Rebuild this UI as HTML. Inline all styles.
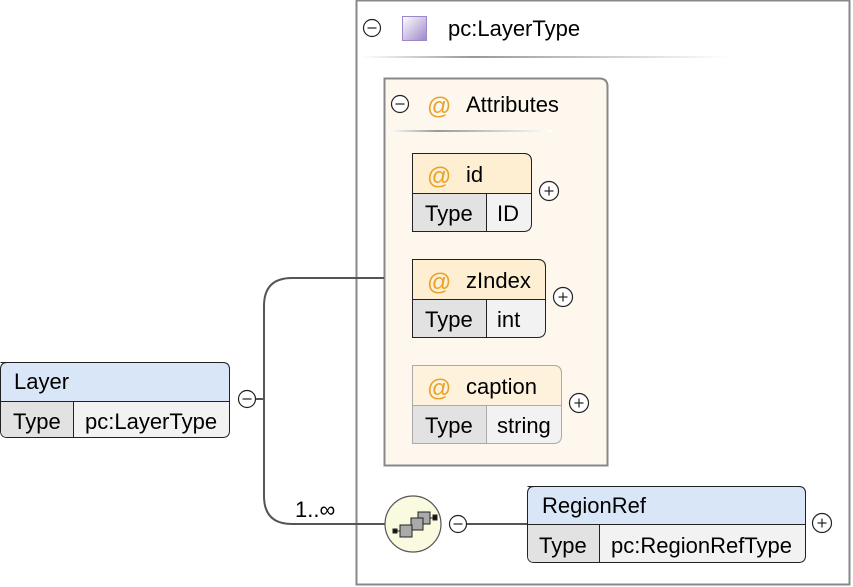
<!DOCTYPE html>
<html><head><meta charset="utf-8"><style>
html,body{margin:0;padding:0;background:#fff;width:853px;height:587px;overflow:hidden}
svg text{font-family:"Liberation Sans",Arial,sans-serif;font-size:22px;fill:#000}
svg text.at{fill:#e8a22a;font-size:24px}
</style></head><body>
<svg width="853" height="587" viewBox="0 0 853 587" xmlns="http://www.w3.org/2000/svg">
<defs>
<linearGradient id="sq" x1="0" y1="0" x2="1" y2="1"><stop offset="0" stop-color="#fff"/><stop offset="1" stop-color="#9c88c8"/></linearGradient>
<linearGradient id="dv" x1="0" x2="1"><stop offset="0" stop-color="#fff"/><stop offset="0.3" stop-color="#999"/><stop offset="1" stop-color="#fff"/></linearGradient>
<g id="minus"><circle r="8.5" fill="#fff" stroke="#222" stroke-width="1.2"/><line x1="-4.5" x2="4.5" y1="0" y2="0" stroke="#222" stroke-width="1.2"/></g>
<g id="plus"><circle r="9.5" fill="#fff" stroke="#222" stroke-width="1.2"/><line x1="-4.5" x2="4.5" stroke="#222" stroke-width="1.2"/><line y1="-4.5" y2="4.5" stroke="#222" stroke-width="1.2"/></g>
</defs>
<rect x="356.5" y="0.5" width="493" height="584" fill="#fff" stroke="#888" stroke-width="2"/>
<use href="#minus" x="372" y="28"/>
<rect x="402.5" y="16.5" width="24" height="24" fill="url(#sq)" stroke="#9c88c8"/>
<text x="448" y="36">pc:LayerType</text>
<rect x="362" y="56" width="368" height="2" fill="url(#dv)"/>
<path d="M384.5 78.5 H599.5 Q607.5 78.5 607.5 86.5 V465.5 H384.5 Z" fill="#fdf7ee" stroke="#888" stroke-width="2"/>
<use href="#minus" x="400" y="104"/>
<text x="427" y="114" class="at">@</text>
<text x="466" y="112">Attributes</text>
<rect x="388" y="130" width="164" height="2" fill="url(#dv)"/>
<g>
<path d="M412.5 153.5 H523.5 Q531.5 153.5 531.5 161.5 V223.5 Q531.5 231.5 523.5 231.5 H412.5 Z" fill="#f2f2f2" stroke="#222"/>
<path d="M412.5 153.5 H523.5 Q531.5 153.5 531.5 161.5 V193.5 H412.5 Z" fill="#feefd2" stroke="#222"/>
<rect x="413" y="194" width="73" height="37" fill="#e2e2e2"/>
<line x1="486.5" y1="193.5" x2="486.5" y2="231.5" stroke="#222"/>
<text x="427" y="184" class="at">@</text><text x="466" y="182">id</text>
<text x="425" y="221">Type</text><text x="497" y="221">ID</text>
<use href="#plus" x="549" y="191"/>
</g>
<g>
<path d="M412.5 259.5 H537.5 Q545.5 259.5 545.5 267.5 V329.5 Q545.5 337.5 537.5 337.5 H412.5 Z" fill="#f2f2f2" stroke="#222"/>
<path d="M412.5 259.5 H537.5 Q545.5 259.5 545.5 267.5 V299.5 H412.5 Z" fill="#feefd2" stroke="#222"/>
<rect x="413" y="300" width="73" height="37" fill="#e2e2e2"/>
<line x1="486.5" y1="299.5" x2="486.5" y2="337.5" stroke="#222"/>
<text x="427" y="290" class="at">@</text><text x="466" y="288">zIndex</text>
<text x="425" y="327">Type</text><text x="497" y="327">int</text>
<use href="#plus" x="563" y="297"/>
</g>
<g>
<path d="M412.5 365.5 H553.5 Q561.5 365.5 561.5 373.5 V435.5 Q561.5 443.5 553.5 443.5 H412.5 Z" fill="#f2f2f2" stroke="#aaa"/>
<path d="M412.5 365.5 H553.5 Q561.5 365.5 561.5 373.5 V405.5 H412.5 Z" fill="#fef2dc" stroke="#aaa"/>
<rect x="413" y="406" width="73" height="37" fill="#e2e2e2"/>
<line x1="486.5" y1="405.5" x2="486.5" y2="443.5" stroke="#aaa"/>
<text x="427" y="396" class="at">@</text><text x="466" y="394">caption</text>
<text x="425" y="433">Type</text><text x="497" y="433">string</text>
<use href="#plus" x="579" y="403"/>
</g>
<path d="M0.5 362.5 H222.5 Q229.5 362.5 229.5 369.5 V430.5 Q229.5 437.5 222.5 437.5 H7.5 Q0.5 437.5 0.5 430.5 V369.5 Q0.5 362.5 7.5 362.5 Z" fill="#f2f2f2" stroke="#222"/>
<path d="M0.5 401.5 V369.5 Q0.5 362.5 7.5 362.5 H222.5 Q229.5 362.5 229.5 369.5 V401.5 Z" fill="#d9e6f8" stroke="#222"/>
<path d="M1 402 H73 V437 H7 Q1 437 1 431 Z" fill="#e2e2e2"/>
<line x1="73.5" y1="401.5" x2="73.5" y2="437.5" stroke="#222"/>
<text x="14" y="389">Layer</text>
<text x="13" y="429">Type</text><text x="85" y="429">pc:LayerType</text>
<use href="#minus" x="247" y="399"/>
<path d="M256 399 H264 M384 278 H292 Q264 278 264 306 V496 Q264 524 292 524 H385" fill="none" stroke="#555" stroke-width="2"/>
<text x="295" y="517">1..∞</text>
<circle cx="413" cy="524" r="28" fill="#fafae0" stroke="#555" stroke-width="1.2"/>
<g stroke="#222" stroke-width="1">
<line x1="396" y1="531" x2="404" y2="531"/><rect x="393" y="529" width="4" height="4" fill="#111"/>
<rect x="418" y="512" width="12" height="12" fill="#aaa"/>
<rect x="411" y="518" width="12" height="12" fill="#aaa"/>
<rect x="400" y="525" width="12" height="12" fill="#aaa"/>
<line x1="430" y1="518" x2="435" y2="518"/><rect x="433" y="515" width="4" height="5" fill="#111"/>
</g>
<use href="#minus" x="458" y="524"/>
<line x1="467" y1="524" x2="527" y2="524" stroke="#555" stroke-width="2"/>
<path d="M527.5 486.5 H798.5 Q805.5 486.5 805.5 493.5 V555.5 Q805.5 562.5 798.5 562.5 H534.5 Q527.5 562.5 527.5 555.5 V493.5 Q527.5 486.5 534.5 486.5 Z" fill="#f2f2f2" stroke="#222"/>
<path d="M527.5 524.5 V493.5 Q527.5 486.5 534.5 486.5 H798.5 Q805.5 486.5 805.5 493.5 V524.5 Z" fill="#d9e6f8" stroke="#222"/>
<path d="M528 525 H599 V562 H534 Q528 562 528 556 Z" fill="#e2e2e2"/>
<line x1="599.5" y1="524.5" x2="599.5" y2="562.5" stroke="#222"/>
<text x="542" y="513">RegionRef</text>
<text x="539" y="553">Type</text><text x="611" y="553">pc:RegionRefType</text>
<use href="#plus" x="822" y="523"/>
</svg>
</body></html>
